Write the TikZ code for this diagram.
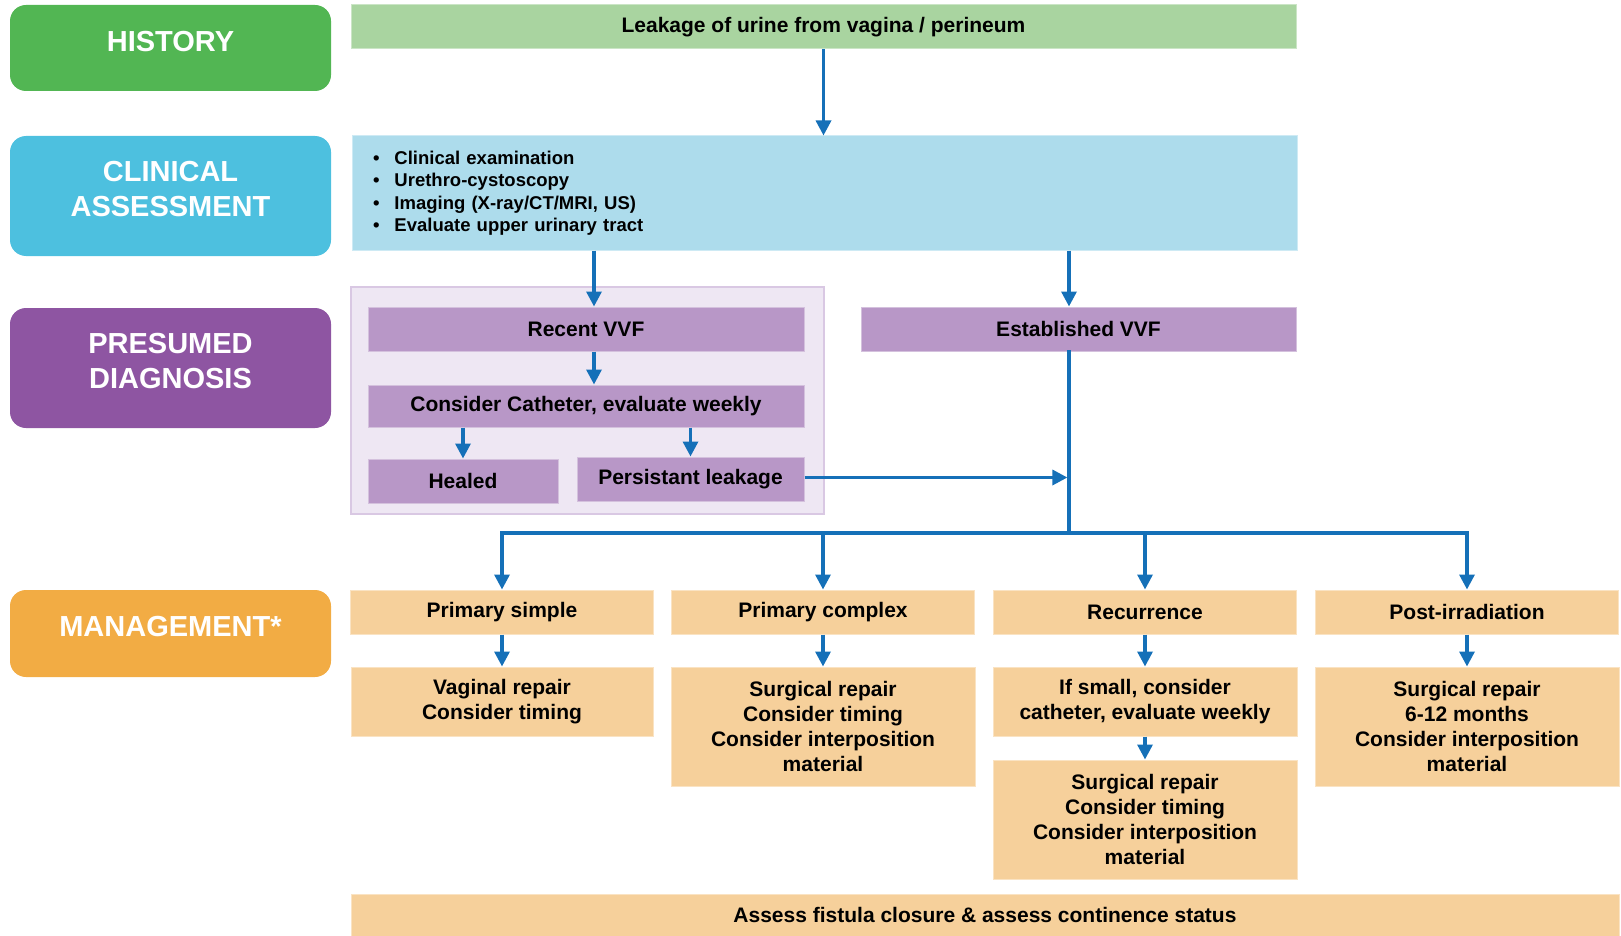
\documentclass[tikz,border=0pt]{standalone}
\usepackage{fontspec}
\setmainfont{Liberation Sans}
\usetikzlibrary{arrows.meta}

\definecolor{histgreen}{HTML}{52B653}
\definecolor{histlight}{HTML}{A9D4A0}
\definecolor{clinblue}{HTML}{4DC0DF}
\definecolor{clinlight}{HTML}{ADDCEC}
\definecolor{diagpurple}{HTML}{8E55A2}
\definecolor{diaglight}{HTML}{B897C7}
\definecolor{diagpale}{HTML}{EEE7F3}
\definecolor{diagedge}{HTML}{D9C8E3}
\definecolor{mgmtorange}{HTML}{F2AC44}
\definecolor{mgmtlight}{HTML}{F6D09B}
\definecolor{flowblue}{HTML}{1570B8}

\tikzset{
  stage/.style={fill=#1, rounded corners=16pt, minimum width=321pt, inner sep=0pt,
    text=white, align=center, text depth=14pt,
    font=\fontsize{29}{35}\selectfont\bfseries},
  flowbox/.style={fill=#1, draw=#1!60!white, line width=1pt, inner sep=0pt,
    align=center, font=\fontsize{21}{24.8}\selectfont\bfseries},
  wire/.style={draw=flowblue, line width=3.3pt, line cap=rect},
  arr/.style={draw=flowblue, line width=3.3pt, -{Triangle[width=15pt,length=15pt]}},
}

\begin{document}
\begin{tikzpicture}[x=1pt,y=-1pt]
    \useasboundingbox (0,0) rectangle (1621,936);

    % stages on the left
    \node[stage=histgreen, minimum height=86pt] (hist) at (170.5,48) {HISTORY};
    \node[stage=clinblue, minimum height=120pt] (clin) at (170.5,196) {CLINICAL\\ASSESSMENT};
    \node[stage=diagpurple, minimum height=120pt] (diag) at (170.5,368) {PRESUMED\\DIAGNOSIS};
    \node[stage=mgmtorange, minimum height=87pt] (mgmt) at (170.5,633.5) {MANAGEMENT*};

    \node[flowbox=histlight, minimum width=945pt, minimum height=44pt] (leak) at (823.5,27)
        {Leakage of urine from vagina / perineum};
    \node[flowbox=clinlight, minimum width=945pt, minimum height=114pt, inner xsep=21pt,
        text width=903pt, align=left, font=\fontsize{18.5}{22.5}\selectfont\bfseries] (exam) at (824.5,193)
        {\textbullet\hspace{15pt}Clinical examination\\
         \textbullet\hspace{15pt}Urethro-cystoscopy\\
         \textbullet\hspace{15pt}Imaging (X-ray/CT/MRI, US)\\
         \textbullet\hspace{15pt}Evaluate upper urinary tract};

    % recent fistula panel
    \draw[draw=diagedge, fill=diagpale, line width=1.2pt] (351,287) rectangle (824,514);
    \node[flowbox=diaglight, minimum width=436pt, minimum height=44pt] (recent) at (586,329) {Recent VVF};
    \node[flowbox=diaglight, minimum width=436pt, minimum height=42pt] (cath) at (586,406)
        {Consider Catheter, evaluate weekly};
    \node[flowbox=diaglight, minimum width=190pt, minimum height=44pt] (healed) at (463,481) {Healed};
    \node[flowbox=diaglight, minimum width=227pt, minimum height=44pt] (persist) at (690.5,479)
        {Persistant leakage};
    \node[flowbox=diaglight, minimum width=435pt, minimum height=44pt] (estab) at (1078.5,329)
        {Established VVF};

    % management
    \foreach \n/\x/\t in {ps/502/Primary simple, pc/823/Primary complex,
                          rec/1145/Recurrence, pi/1467/Post-irradiation}
        \node[flowbox=mgmtlight, minimum width=303pt, minimum height=44pt] (\n) at (\x,612) {\t};

    \node[flowbox=mgmtlight, minimum width=302pt, minimum height=69pt] (vag) at (502,701.5)
        {Vaginal repair\\Consider timing};
    \node[flowbox=mgmtlight, minimum width=304pt, minimum height=119pt] (pcrep) at (823,726.5)
        {Surgical repair\\Consider timing\\Consider interposition\\material};
    \node[flowbox=mgmtlight, minimum width=304pt, minimum height=69pt] (small) at (1145,701.5)
        {If small, consider\\catheter, evaluate weekly};
    \node[flowbox=mgmtlight, minimum width=304pt, minimum height=119pt] (recrep) at (1145,819.5)
        {Surgical repair\\Consider timing\\Consider interposition\\material};
    \node[flowbox=mgmtlight, minimum width=304pt, minimum height=119pt] (pirep) at (1467,726.5)
        {Surgical repair\\6-12 months\\Consider interposition\\material};
    \node[flowbox=mgmtlight, minimum width=1268pt, minimum height=42pt] (final) at (985,915)
        {Assess fistula closure \& assess continence status};

    % connectors
    \coordinate (rx) at (594,0);
    \coordinate (ex) at (1069,0);
    \coordinate (hub) at (1069,533);
    \coordinate (px) at (0,477.5);

    \draw[arr] (leak.south) -- (leak.south |- exam.north);
    \draw[arr] (rx |- exam.south) -- (rx |- recent.north);
    \draw[arr] (rx |- recent.south) -- (rx |- cath.north);
    \draw[arr] (healed.north |- cath.south) -- (healed.north);
    \draw[arr] (persist.north |- cath.south) -- (persist.north);
    \draw[arr] (ex |- exam.south) -- (ex |- estab.north);
    \draw[wire] (ex |- estab.south) -- (hub);
    \draw[arr, shorten >=1.6pt] (persist.east |- px) -- (hub |- px);
    \draw[wire] (ps.north |- hub) -- (pi.north |- hub);
    \foreach \n in {ps,pc,rec,pi}
        \draw[arr] (\n.north |- hub) -- (\n.north);

    \draw[arr] (ps.south) -- (vag.north);
    \draw[arr] (pc.south) -- (pcrep.north);
    \draw[arr] (rec.south) -- (small.north);
    \draw[arr] (small.south) -- (recrep.north);
    \draw[arr] (pi.south) -- (pirep.north);
\end{tikzpicture}
\end{document}
